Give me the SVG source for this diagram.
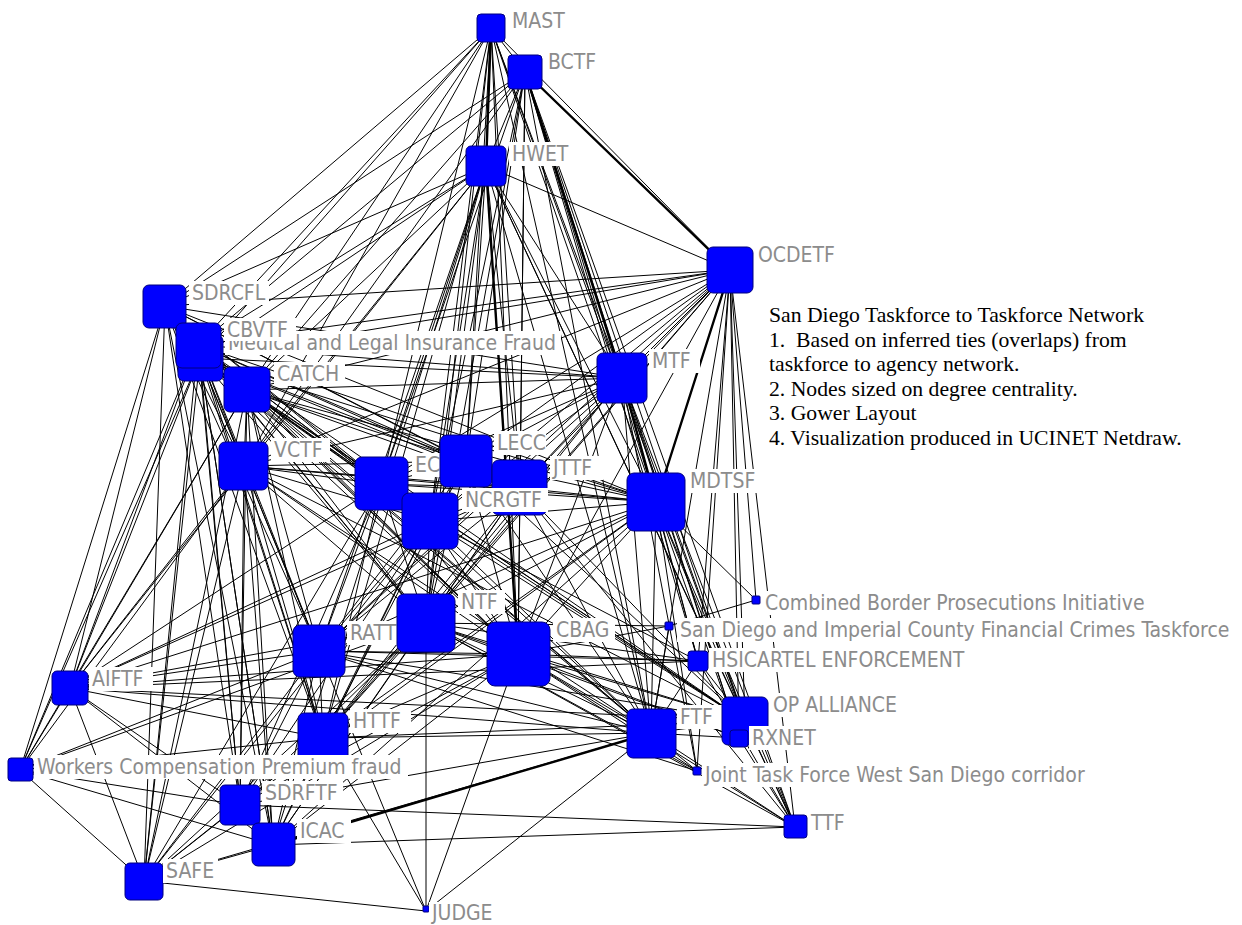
<svg xmlns="http://www.w3.org/2000/svg" width="1242" height="925" viewBox="0 0 1242 925">
<style>
.e{stroke:#000;stroke-width:1;fill:none}
.et{stroke:#000;stroke-width:2.4;fill:none}
.n{fill:#0000ff;stroke:#000080;stroke-width:1}
.lb{fill:#fff}
.l{font-family:"DejaVu Sans Condensed","DejaVu Sans",sans-serif;font-stretch:condensed;font-size:21px;fill:#8c8c8c}
.t{font-family:"Liberation Serif","Times New Roman",serif;font-size:21.7px;fill:#000}
</style>
<rect width="1242" height="925" fill="#fff"/>
<g id="connectors">
<path class="e" d="M730 270L622 378M730 270L198 345M730 270L200 358M730 270L247 390M730 270L244 466M730 270L381 484M730 270L466 461M730 270L520 488M730 270L430 521M730 270L656 502M730 270L426 623M730 270L319 651M730 270L518 654M730 270L323 738M730 270L651 733M730 270L745 721M730 270L491 28M730 270L525 72M730 270L486 166M730 270L165 306M730 270L795 827M730 270L698 661M730 270L739 738M730 270L756 600M730 270L697 771"/>
<path class="e" d="M622 378L198 345M622 378L200 358M622 378L247 390M622 378L244 466M622 378L381 484M622 378L466 461M622 378L520 488M622 378L430 521M622 378L656 502M622 378L426 623M622 378L319 651M622 378L518 654M622 378L323 738M622 378L651 733M622 378L745 721M622 378L698 661M622 378L697 771"/>
<path class="e" d="M198 345L247 390M198 345L244 466M198 345L381 484M198 345L466 461M198 345L520 488M198 345L430 521M198 345L656 502M198 345L426 623M198 345L319 651M198 345L518 654M198 345L323 738M198 345L651 733M198 345L745 721"/>
<path class="e" d="M200 358L247 390M200 358L244 466M200 358L381 484M200 358L466 461M200 358L520 488M200 358L430 521M200 358L656 502M200 358L426 623M200 358L319 651M200 358L518 654M200 358L323 738M200 358L651 733M200 358L745 721"/>
<path class="e" d="M247 390L244 466M247 390L381 484M247 390L466 461M247 390L520 488M247 390L430 521M247 390L656 502M247 390L426 623M247 390L319 651M247 390L518 654M247 390L323 738M247 390L651 733M247 390L745 721"/>
<path class="e" d="M244 466L381 484M244 466L466 461M244 466L520 488M244 466L430 521M244 466L656 502M244 466L426 623M244 466L319 651M244 466L518 654M244 466L323 738M244 466L651 733M244 466L745 721"/>
<path class="e" d="M381 484L466 461M381 484L520 488M381 484L430 521M381 484L656 502M381 484L426 623M381 484L319 651M381 484L518 654M381 484L323 738M381 484L651 733M381 484L745 721"/>
<path class="e" d="M466 461L520 488M466 461L430 521M466 461L656 502M466 461L426 623M466 461L319 651M466 461L518 654M466 461L323 738M466 461L651 733M466 461L745 721"/>
<path class="e" d="M520 488L430 521M520 488L656 502M520 488L426 623M520 488L319 651M520 488L518 654M520 488L323 738M520 488L651 733M520 488L745 721"/>
<path class="e" d="M430 521L656 502M430 521L426 623M430 521L319 651M430 521L518 654M430 521L323 738M430 521L651 733M430 521L745 721"/>
<path class="e" d="M656 502L426 623M656 502L319 651M656 502L518 654M656 502L323 738M656 502L651 733M656 502L745 721"/>
<path class="e" d="M426 623L319 651M426 623L518 654M426 623L323 738M426 623L651 733M426 623L745 721M319 651L518 654M319 651L323 738M319 651L651 733M319 651L745 721M518 654L323 738M518 654L651 733M518 654L745 721M323 738L651 733M323 738L745 721M651 733L745 721"/>
<path class="e" d="M491 28L165 306M491 28L198 345M491 28L200 358M491 28L247 390M491 28L244 466M491 28L486 166M491 28L525 72M491 28L466 461M491 28L381 484M491 28L430 521M491 28L520 488M491 28L426 623M491 28L518 654M491 28L622 378M491 28L656 502M491 28L651 733M491 28L745 721"/>
<path class="e" d="M525 72L486 166M525 72L165 306M525 72L198 345M525 72L247 390M525 72L244 466M525 72L466 461M525 72L381 484M525 72L520 488M525 72L430 521M525 72L426 623M525 72L518 654M525 72L622 378M525 72L656 502M525 72L651 733M525 72L745 721M525 72L795 827M525 72L739 738M525 72L698 661"/>
<path class="e" d="M486 166L165 306M486 166L198 345M486 166L200 358M486 166L247 390M486 166L244 466M486 166L70 688M486 166L466 461M486 166L381 484M486 166L520 488M486 166L430 521M486 166L426 623M486 166L518 654M486 166L319 651M486 166L323 738M486 166L622 378M486 166L656 502M486 166L651 733M486 166L273 845M486 166L745 721M486 166L795 827"/>
<path class="e" d="M165 306L200 358M165 306L247 390M165 306L244 466M165 306L70 688M165 306L20 770M165 306L144 881M165 306L240 805M165 306L273 845M165 306L319 651M165 306L323 738M165 306L426 623M165 306L518 654M165 306L381 484M165 306L466 461M165 306L430 521M165 306L520 488M165 306L622 378M165 306L656 502"/>
<path class="e" d="M70 688L198 345M70 688L200 358M70 688L247 390M70 688L244 466M70 688L319 651M70 688L323 738M70 688L426 623M70 688L518 654M70 688L381 484M70 688L430 521M70 688L144 881M70 688L20 770M70 688L240 805M70 688L273 845M70 688L651 733M70 688L656 502M70 688L745 721M70 688L520 488M70 688L698 661"/>
<path class="e" d="M20 770L200 358M20 770L198 345M20 770L247 390M20 770L244 466M20 770L144 881M20 770L273 845M20 770L240 805M20 770L319 651M20 770L323 738M20 770L426 623"/>
<path class="e" d="M240 805L198 345M240 805L200 358M240 805L247 390M240 805L244 466M240 805L319 651M240 805L323 738M240 805L426 623M240 805L518 654M240 805L430 521M240 805L381 484M240 805L273 845M240 805L144 881M240 805L651 733M240 805L795 827M240 805L656 502"/>
<path class="e" d="M273 845L198 345M273 845L200 358M273 845L247 390M273 845L244 466M273 845L319 651M273 845L323 738M273 845L426 623M273 845L518 654M273 845L430 521M273 845L144 881M273 845L795 827M273 845L656 502M273 845L520 488"/>
<path class="e" d="M144 881L198 345M144 881L200 358M144 881L247 390M144 881L244 466M144 881L319 651M144 881L323 738M144 881L426 623M144 881L518 654M144 881L430 521M144 881L381 484M144 881L426 911M144 881L651 733"/>
<path class="e" d="M795 827L656 502M795 827L651 733M795 827L745 721M795 827L739 738M795 827L518 654M795 827L426 623M795 827L622 378M795 827L520 488M795 827L698 661"/>
<path class="e" d="M698 661L518 654M698 661L426 623M698 661L651 733M698 661L745 721M698 661L656 502M698 661L319 651M698 661L430 521"/>
<path class="e" d="M739 738L656 502M739 738L651 733M739 738L745 721M739 738L518 654M739 738L426 623M739 738L622 378"/>
<path class="e" d="M756 600L669 626M756 600L656 502M669 626L518 654M669 626L426 623M669 626L651 733"/>
<path class="e" d="M697 771L651 733M697 771L518 654M697 771L426 623M697 771L319 651M697 771L656 502"/>
<path class="e" d="M426 911L323 738M426 911L319 651M426 911L426 623M426 911L518 654M426 911L651 733"/>
<path class="et" d="M491 28L486 166M273 845L651 733M622 378L656 502M730 270L656 502M525 72L730 270M525 72L622 378M486 166L518 654"/>
</g>
<g id="node-mast"><rect class="n" x="477" y="14" width="28" height="28" rx="4"/><rect class="lb" x="509" y="9" width="59" height="24"/><text class="l" x="512" y="28">MAST</text></g>
<g id="node-bctf"><rect class="n" x="508" y="55" width="34" height="34" rx="4"/><rect class="lb" x="545" y="50" width="58" height="24"/><text class="l" x="548" y="69">BCTF</text></g>
<g id="node-hwet"><rect class="n" x="466" y="146" width="40" height="40" rx="5"/><rect class="lb" x="509" y="142" width="62" height="24"/><text class="l" x="512" y="161">HWET</text></g>
<g id="node-ocdetf"><rect class="n" x="707" y="247" width="46" height="46" rx="6"/><rect class="lb" x="755" y="243" width="90" height="24"/><text class="l" x="758" y="262">OCDETF</text></g>
<g id="node-sdrcfl"><rect class="n" x="143" y="285" width="43" height="43" rx="6"/><rect class="lb" x="189" y="281" width="80" height="24"/><text class="l" x="192" y="300">SDRCFL</text></g>
<g id="node-medical"><rect class="n" x="178" y="335" width="45" height="46" rx="6"/><rect class="lb" x="225" y="331" width="336" height="24"/><text class="l" x="228" y="350">Medical and Legal Insurance Fraud</text></g>
<g id="node-cbvtf"><rect class="n" x="176" y="323" width="45" height="45" rx="6"/><rect class="lb" x="224" y="318" width="72" height="23"/><text class="l" x="227" y="337">CBVTF</text></g>
<g id="node-catch"><rect class="n" x="224" y="367" width="46" height="45" rx="6"/><rect class="lb" x="274" y="362" width="71" height="24"/><text class="l" x="277" y="381">CATCH</text></g>
<g id="node-mtf"><rect class="n" x="597" y="353" width="50" height="50" rx="6"/><rect class="lb" x="649" y="349" width="51" height="24"/><text class="l" x="652" y="368">MTF</text></g>
<g id="node-vctf"><rect class="n" x="219" y="442" width="49" height="48" rx="6"/><rect class="lb" x="271" y="438" width="59" height="24"/><text class="l" x="274" y="457">VCTF</text></g>
<g id="node-ec"><rect class="n" x="355" y="457" width="53" height="53" rx="7"/><rect class="lb" x="412" y="453" width="30" height="24"/><text class="l" x="415" y="472">EC</text></g>
<g id="node-lecc"><rect class="n" x="440" y="435" width="52" height="52" rx="7"/><rect class="lb" x="494" y="431" width="52" height="24"/><text class="l" x="497" y="450">LECC</text></g>
<g id="node-jttf"><rect class="n" x="492" y="460" width="55" height="55" rx="7"/><rect class="lb" x="550" y="456" width="53" height="24"/><text class="l" x="553" y="475">JTTF</text></g>
<g id="node-ncrgtf"><rect class="n" x="402" y="493" width="56" height="56" rx="7"/><rect class="lb" x="462" y="488" width="86" height="24"/><text class="l" x="465" y="507">NCRGTF</text></g>
<g id="node-mdtsf"><rect class="n" x="627" y="473" width="58" height="58" rx="7"/><rect class="lb" x="687" y="469" width="76" height="24"/><text class="l" x="690" y="488">MDTSF</text></g>
<g id="node-ratt"><rect class="n" x="293" y="625" width="52" height="52" rx="7"/><rect class="lb" x="347" y="621" width="59" height="24"/><text class="l" x="350" y="640">RATT</text></g>
<g id="node-ntf"><rect class="n" x="397" y="594" width="58" height="58" rx="7"/><rect class="lb" x="458" y="590" width="47" height="24"/><text class="l" x="461" y="609">NTF</text></g>
<g id="node-cbag"><rect class="n" x="487" y="622" width="63" height="64" rx="8"/><rect class="lb" x="553" y="618" width="62" height="24"/><text class="l" x="556" y="637">CBAG</text></g>
<g id="node-cbpi"><rect class="n" x="752" y="596" width="8" height="8" rx="1"/><rect class="lb" x="762" y="591" width="354" height="24"/><text class="l" x="765" y="610">Combined Border Prosecutions Initiative</text></g>
<g id="node-sdic"><rect class="n" x="665" y="622" width="8" height="8" rx="1"/><rect class="lb" x="677" y="618" width="558" height="24"/><text class="l" x="680" y="637">San Diego and Imperial County Financial Crimes Taskforce</text></g>
<g id="node-hsi"><rect class="n" x="688" y="651" width="20" height="20" rx="3"/><rect class="lb" x="709" y="648" width="274" height="24"/><text class="l" x="712" y="667">HSICARTEL ENFORCEMENT</text></g>
<g id="node-aiftf"><rect class="n" x="52" y="671" width="36" height="34" rx="5"/><rect class="lb" x="89" y="667" width="64" height="24"/><text class="l" x="92" y="686">AIFTF</text></g>
<g id="node-httf"><rect class="n" x="298" y="713" width="50" height="50" rx="6"/><rect class="lb" x="350" y="709" width="61" height="24"/><text class="l" x="353" y="728">HTTF</text></g>
<g id="node-workers"><rect class="n" x="8" y="758" width="25" height="23" rx="3"/><rect class="lb" x="34" y="755" width="374" height="24"/><text class="l" x="37" y="774">Workers Compensation Premium fraud</text></g>
<g id="node-ftf"><rect class="n" x="627" y="709" width="49" height="49" rx="6"/><rect class="lb" x="677" y="705" width="45" height="24"/><text class="l" x="680" y="724">FTF</text></g>
<g id="node-opalliance"><rect class="n" x="722" y="697" width="46" height="48" rx="6"/><rect class="lb" x="770" y="693" width="136" height="24"/><text class="l" x="773" y="712">OP ALLIANCE</text></g>
<g id="node-rxnet"><rect class="n" x="730" y="730" width="18" height="17" rx="3"/><rect class="lb" x="749" y="726" width="72" height="24"/><text class="l" x="752" y="745">RXNET</text></g>
<g id="node-jtfw"><rect class="n" x="693" y="767" width="8" height="8" rx="1"/><rect class="lb" x="702" y="763" width="399" height="24"/><text class="l" x="705" y="782">Joint Task Force West San Diego corridor</text></g>
<g id="node-sdrftf"><rect class="n" x="220" y="785" width="40" height="40" rx="5"/><rect class="lb" x="262" y="781" width="81" height="24"/><text class="l" x="265" y="800">SDRFTF</text></g>
<g id="node-icac"><rect class="n" x="252" y="823" width="43" height="43" rx="6"/><rect class="lb" x="297" y="819" width="54" height="24"/><text class="l" x="300" y="838">ICAC</text></g>
<g id="node-safe"><rect class="n" x="125" y="863" width="38" height="37" rx="5"/><rect class="lb" x="163" y="859" width="55" height="24"/><text class="l" x="166" y="878">SAFE</text></g>
<g id="node-ttf"><rect class="n" x="784" y="815" width="23" height="23" rx="3"/><rect class="lb" x="808" y="811" width="40" height="24"/><text class="l" x="811" y="830">TTF</text></g>
<g id="node-judge"><rect class="n" x="423" y="906" width="6" height="6" rx="1"/><rect class="lb" x="429" y="902" width="71" height="21"/><text class="l" x="432" y="920">JUDGE</text></g>
<g id="legend">
<text class="t" x="769" y="322">San Diego Taskforce to Taskforce Network</text>
<text class="t" x="769" y="347" xml:space="preserve">1.  Based on inferred ties (overlaps) from</text>
<text class="t" x="769" y="371">taskforce to agency network.</text>
<text class="t" x="769" y="396">2. Nodes sized on degree centrality.</text>
<text class="t" x="769" y="420">3. Gower Layout</text>
<text class="t" x="769" y="445">4. Visualization produced in UCINET Netdraw.</text>
</g>
</svg>
